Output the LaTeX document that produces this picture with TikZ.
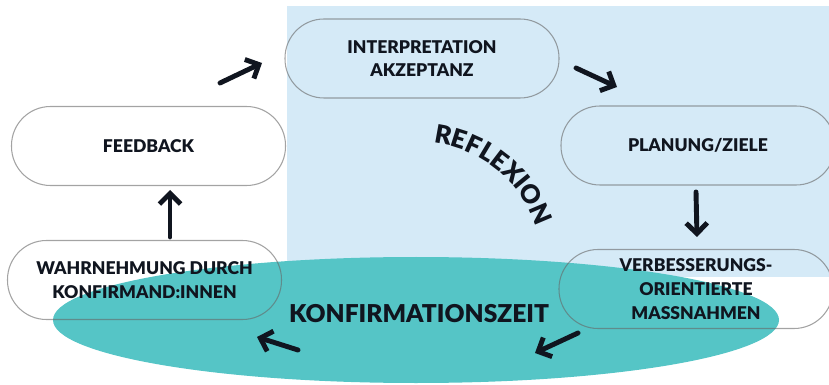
\documentclass[tikz,border=0pt]{standalone}
\usepackage{fontspec}
\setmainfont{Lato}[BoldFont={* Black}]
\usetikzlibrary{arrows.meta}
\usetikzlibrary{decorations.text}

\begin{document}
\begin{tikzpicture}
\definecolor{bgblue}{HTML}{D5EAF7}
\definecolor{myteal}{HTML}{55C5C6}
\definecolor{myink}{HTML}{10151F}
\tikzstyle{myarr}=[-{Straight Barb[length=6pt,width=12pt]}]
\tikzset{
pill/.style={draw=black!60,draw opacity=0.6,line width=0.6pt,rounded corners=0.78cm,
  minimum width=5.48cm,minimum height=1.58cm,align=center,text=myink,
  font=\fontsize{10}{13.6}\selectfont\bfseries},
arr/.style={myink,line width=2.8pt,line cap=round,line join=round},
}
\def\W{16.58}  % picture width
\def\H{7.68}   % picture height
\def\R{2.45}   % radius of reflexion arc

\useasboundingbox (0,0) rectangle (\W,\H);

% BACKGROUND
\fill[bgblue] (5.74,2.14) rectangle (\W,7.56);
\fill[myteal] (8.32,1.28) ellipse [x radius=7.26, y radius=1.26];

% STEPS
\node[pill] (interp) at (8.44,6.51) {INTERPRETATION\\AKZEPTANZ};
\node[pill] (plan)   at (13.96,4.77) {PLANUNG/ZIELE};
\node[pill] (verb)   at (13.92,1.90) {VERBESSERUNGS-\\ORIENTIERTE\\MASSNAHMEN};
\node[pill] (wahr)   at (2.89,2.08) {WAHRNEHMUNG DURCH\\KONFIRMAND:INNEN};
\node[pill] (feed)   at (2.97,4.76) {FEEDBACK};

% LABELS
\node[text=myink,font=\fontsize{14}{14}\selectfont\bfseries] (zeit) at (8.38,1.40) {KONFIRMATIONSZEIT};
\coordinate (M) at (8.40,2.38); % centre of reflexion arc
\path[decorate,decoration={text along path,text align=center,
  text={|\fontsize{14.5}{14.5}\selectfont\bfseries\color{myink}|REFLEXION}}]
  (M) ++(95:\R) arc[start angle=95,end angle=7,radius=\R];

% ARROWS
\coordinate (a1) at (4.40,6.02);  \coordinate (b1) at (5.24,6.42);  % feedback -> interpretation
\coordinate (a2) at (11.52,6.32); \coordinate (b2) at (12.34,5.94); % interpretation -> planung
\coordinate (a3) at (13.92,3.84); \coordinate (b3) at (13.94,2.94); % planung -> massnahmen
\coordinate (a4) at (11.56,1.02); \coordinate (b4) at (10.70,0.62); % along the ellipse
\coordinate (a5) at (5.96,0.68);  \coordinate (b5) at (5.14,0.94);  % along the ellipse
\coordinate (a6) at (3.40,2.94);  \coordinate (b6) at (3.40,3.88);  % wahrnehmung -> feedback
\foreach \s/\e in {a1/b1,a2/b2,a3/b3,a4/b4,a5/b5,a6/b6}
  \draw[arr,myarr] (\s) -- (\e);

\end{tikzpicture}
\end{document}
